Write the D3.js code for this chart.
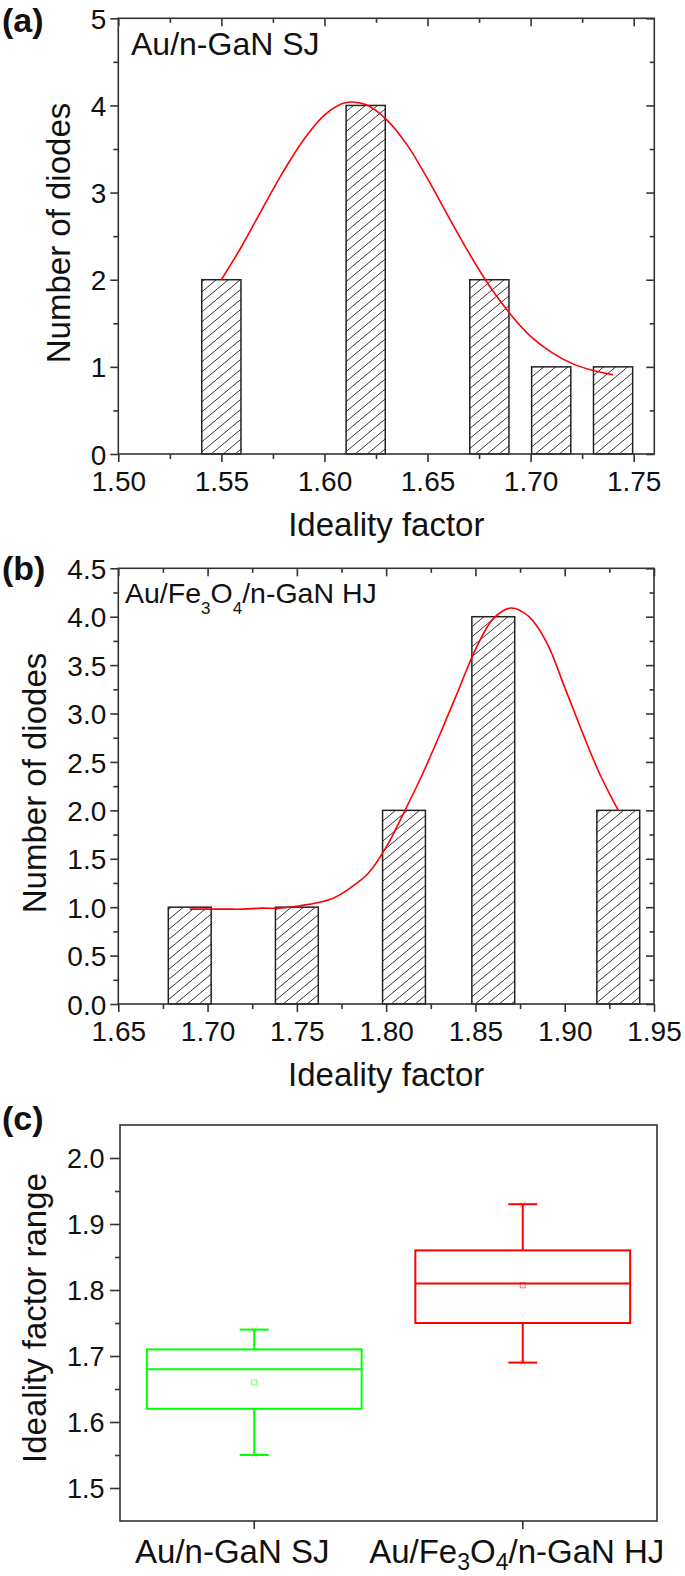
<!DOCTYPE html>
<html><head><meta charset="utf-8">
<script src="https://cdn.jsdelivr.net/npm/d3@7"></script>
<style>
body{margin:0;background:#fff}
text{font-family:"Liberation Sans",Arial,Helvetica,sans-serif;fill:#111}
</style>
</head><body>
<script>
// ---------------- DATA ----------------
// Panel (a) : Au/n-GaN SJ
const aBinCenters = [1.55, 1.62, 1.68, 1.71, 1.74];
const aCounts     = [2, 4, 2, 1, 1];
const aFitX = [1.55,1.56,1.57,1.58,1.59,1.60,1.61,1.62,1.63,1.64,1.65,1.66,1.67,1.68,1.69,1.70,1.71,1.72,1.73,1.74];
const aFitY = [2.00,2.39,2.82,3.24,3.61,3.89,4.03,4.01,3.84,3.55,3.16,2.73,2.31,1.93,1.61,1.35,1.17,1.04,0.96,0.91];
const aXTicks = [1.50,1.55,1.60,1.65,1.70,1.75];
const aXMinor = [1.525,1.575,1.625,1.675,1.725];
const aYTicks = [0,1,2,3,4,5];
const aYMinor = [0.5,1.5,2.5,3.5,4.5];

// Panel (b) : Au/Fe3O4/n-GaN HJ
const bBinCenters = [1.69, 1.75, 1.81, 1.86, 1.93];
const bCounts     = [1, 1, 2, 4, 2];
const bFitX = [1.69,1.70,1.71,1.72,1.73,1.74,1.75,1.76,1.77,1.78,1.79,1.80,1.81,1.82,1.83,1.84,1.85,1.86,1.87,1.88,1.89,1.90,1.91,1.92,1.93];
const bFitY = [0.98,0.98,0.98,0.98,0.99,0.99,1.01,1.04,1.09,1.20,1.35,1.62,1.98,2.36,2.78,3.22,3.66,3.98,4.09,4.00,3.73,3.27,2.80,2.36,2.00];
const bXTicks = [1.65,1.70,1.75,1.80,1.85,1.90,1.95];
const bXMinor = [1.675,1.725,1.775,1.825,1.875,1.925];
const bYTicks = [0,0.5,1.0,1.5,2.0,2.5,3.0,3.5,4.0,4.5];
const bYMinor = [0.25,0.75,1.25,1.75,2.25,2.75,3.25,3.75,4.25];

// Panel (c) : box plot
const cCategories = ["Au/n-GaN SJ", "Au/Fe3O4/n-GaN HJ"];
const cMin    = [1.55, 1.69];
const cQ1     = [1.62, 1.75];
const cMedian = [1.68, 1.81];
const cQ3     = [1.71, 1.86];
const cMax    = [1.74, 1.93];
const cMean   = [1.66, 1.807];
const cYTicks = [1.5,1.6,1.7,1.8,1.9,2.0];
const cYMinor = [1.55,1.65,1.75,1.85,1.95];

// ---------------- STYLE / LAYOUT ----------------
const FONT = '"Liberation Sans",Arial,Helvetica,sans-serif';
const AX = "#333";
const TICKFS = 28;
const cColors = ["#00ff00", "#ff0000"];
const cLabelShift = [-22, -6];

const svg = d3.select("body").append("svg").attr("width",685).attr("height",1576);
const defs = svg.append("defs");
const pat = defs.append("pattern").attr("id","hatch").attr("patternUnits","userSpaceOnUse")
  .attr("width",12).attr("height",10);
pat.append("path").attr("d","M-3,2.5 L3,-2.5 M0,10 L12,0 M9,12.5 L15,7.5")
  .attr("stroke","#333").attr("stroke-width",1).attr("fill","none");

function axisG(axisFn, scale, ticks, size, fmt, transform, fs) {
  const a = axisFn(scale).tickValues(ticks).tickSize(size).tickSizeOuter(0)
    .tickFormat(fmt ? fmt : () => "");
  const gg = svg.append("g").attr("transform", transform).call(a);
  gg.select(".domain").remove();
  gg.selectAll(".tick line").attr("stroke", AX).attr("stroke-width", 1.6);
  gg.attr("font-family", FONT).attr("font-size", fs || TICKFS);
  gg.selectAll(".tick text").attr("fill", "#111");
  return gg;
}

function richText(sel, str, subSize, subDy) {
  const parts = str.split(/(\d)/).filter(s => s.length);
  let shifted = false;
  parts.forEach(p => {
    if (/^\d$/.test(p)) {
      sel.append("tspan").attr("font-size", subSize).attr("dy", shifted ? 0 : subDy).text(p);
      shifted = true;
    } else {
      sel.append("tspan").attr("dy", shifted ? -subDy : 0).text(p);
      shifted = false;
    }
  });
}

function histPanel(p) {
  const x = d3.scaleLinear().domain(p.xDomain).range([p.left, p.right]);
  const y = d3.scaleLinear().domain(p.yDomain).range([p.bottom, p.top]);
  const g = svg.append("g");
  const bars = p.centers.map((c, i) => ({c, n: p.counts[i]}));
  g.selectAll("rect.bar").data(bars).join("rect").attr("class","bar")
    .attr("x", d => x(d.c - p.barWidth/2))
    .attr("width", d => x(d.c + p.barWidth/2) - x(d.c - p.barWidth/2))
    .attr("y", d => y(d.n)).attr("height", d => y(0) - y(d.n))
    .attr("fill", "url(#hatch)").attr("stroke", "#222").attr("stroke-width", 1.5);
  const line = d3.line().x(d => x(d[0])).y(d => y(d[1])).curve(d3.curveCatmullRom.alpha(0.5));
  g.append("path").datum(p.fitX.map((v, i) => [v, p.fitY[i]]))
    .attr("d", line).attr("fill", "none").attr("stroke", "#ff0000").attr("stroke-width", 1.6);
  g.append("rect").attr("x", p.left).attr("y", p.top)
    .attr("width", p.right - p.left).attr("height", p.bottom - p.top)
    .attr("fill", "none").attr("stroke", AX).attr("stroke-width", 1.6);

  // bottom
  axisG(d3.axisBottom, x, p.xTicks, 8, d3.format(".2f"), `translate(0,${p.bottom})`)
    .selectAll(".tick text").attr("y", 37).attr("dy", 0);
  axisG(d3.axisBottom, x, p.xMinor, 5, null, `translate(0,${p.bottom})`);
  // top (inward)
  axisG(d3.axisBottom, x, p.xTicks, 8, null, `translate(0,${p.top})`);
  axisG(d3.axisBottom, x, p.xMinor, 4.5, null, `translate(0,${p.top})`);
  // left
  axisG(d3.axisLeft, y, p.yTicks, 8, d3.format(p.yFmt), `translate(${p.left},0)`)
    .selectAll(".tick text").attr("x", -12).attr("dy", "0.36em");
  axisG(d3.axisLeft, y, p.yMinor, 5, null, `translate(${p.left},0)`);
  // right (inward)
  axisG(d3.axisLeft, y, p.yTicks, 8, null, `translate(${p.right},0)`);
  axisG(d3.axisLeft, y, p.yMinor, 4.5, null, `translate(${p.right},0)`);

  // titles
  svg.append("text").attr("x", (p.left + p.right)/2).attr("y", p.bottom + 82)
    .attr("text-anchor", "middle").attr("font-size", 33).text("Ideality factor");
  svg.append("text").attr("transform", `translate(${p.yTitleX},${p.yTitleY}) rotate(-90)`)
    .attr("text-anchor", "middle").attr("font-size", 33).text("Number of diodes");
  svg.append("text").attr("x", 2).attr("y", p.tagY).attr("font-size", 34)
    .attr("font-weight", "bold").text(p.tag);
  const t = svg.append("text").attr("x", p.nameX).attr("y", p.nameY).attr("font-size", p.nameSize);
  richText(t, p.name, p.nameSub, p.nameSubDy);
}

histPanel({
  left: 118.3, right: 654.3, top: 18.3, bottom: 454,
  xDomain: [1.50, 1.76], yDomain: [0, 5], barWidth: 0.019,
  centers: aBinCenters, counts: aCounts, fitX: aFitX, fitY: aFitY,
  xTicks: aXTicks, xMinor: aXMinor, yTicks: aYTicks, yMinor: aYMinor, yFmt: "d",
  yTitleX: 70, yTitleY: 233, tag: "(a)", tagY: 32,
  name: "Au/n-GaN SJ", nameX: 131, nameY: 55, nameSize: 32, nameSub: 20, nameSubDy: 9
});

histPanel({
  left: 118.3, right: 654, top: 568.3, bottom: 1004,
  xDomain: [1.65, 1.95], yDomain: [0, 4.5], barWidth: 0.024,
  centers: bBinCenters, counts: bCounts, fitX: bFitX, fitY: bFitY,
  xTicks: bXTicks, xMinor: bXMinor, yTicks: bYTicks, yMinor: bYMinor, yFmt: ".1f",
  yTitleX: 46, yTitleY: 783, tag: "(b)", tagY: 580,
  name: "Au/Fe3O4/n-GaN HJ", nameX: 125, nameY: 603, nameSize: 28.5, nameSub: 17, nameSubDy: 11
});

// ---------------- Panel (c) ----------------
(function() {
  const L = 120, R = 657, T = 1125, B = 1521;
  const x = d3.scaleBand().domain(cCategories).range([L, R]).paddingInner(0).paddingOuter(0);
  const y = d3.scaleLinear().domain([1.45, 2.05]).range([B, T]);
  const bw = x.bandwidth();
  const boxW = bw * 0.8, capW = bw * 0.108;

  svg.append("rect").attr("x", L).attr("y", T).attr("width", R - L).attr("height", B - T)
    .attr("fill", "none").attr("stroke", AX).attr("stroke-width", 1.6);

  const stats = cCategories.map((c, i) => ({c, i, mn: cMin[i], q1: cQ1[i], md: cMedian[i], q3: cQ3[i], mx: cMax[i], mean: cMean[i]}));
  const g = svg.append("g");
  stats.forEach(d => {
    const cx = x(d.c) + bw/2, col = cColors[d.i];
    const gg = g.append("g").attr("stroke", col).attr("fill", "none");
    gg.append("line").attr("x1", cx).attr("x2", cx).attr("y1", y(d.q3)).attr("y2", y(d.mx)).attr("stroke-width", 2);
    gg.append("line").attr("x1", cx).attr("x2", cx).attr("y1", y(d.q1)).attr("y2", y(d.mn)).attr("stroke-width", 2);
    gg.append("line").attr("x1", cx - capW/2).attr("x2", cx + capW/2).attr("y1", y(d.mx)).attr("y2", y(d.mx)).attr("stroke-width", 2);
    gg.append("line").attr("x1", cx - capW/2).attr("x2", cx + capW/2).attr("y1", y(d.mn)).attr("y2", y(d.mn)).attr("stroke-width", 2);
    gg.append("rect").attr("x", cx - boxW/2).attr("width", boxW)
      .attr("y", y(d.q3)).attr("height", y(d.q1) - y(d.q3)).attr("stroke-width", 2);
    gg.append("line").attr("x1", cx - boxW/2).attr("x2", cx + boxW/2).attr("y1", y(d.md)).attr("y2", y(d.md)).attr("stroke-width", 2);
    gg.append("rect").attr("x", cx - 2.5).attr("y", y(d.mean) - 2.5).attr("width", 5).attr("height", 5)
      .attr("stroke-width", 0.8).attr("opacity", 0.7);
    [d.mx, d.mn].forEach(v => {
      gg.append("path").attr("d", `M${cx-3},${y(v)-3}L${cx+3},${y(v)+3}M${cx-3},${y(v)+3}L${cx+3},${y(v)-3}`)
        .attr("stroke-width", 0.7).attr("opacity", 0.5);
    });
  });

  axisG(d3.axisLeft, y, cYTicks, 10, d3.format(".1f"), `translate(${L},0)`, 27)
    .selectAll(".tick text").attr("x", -15.5).attr("dy", "0.36em");
  axisG(d3.axisLeft, y, cYMinor, 5, null, `translate(${L},0)`);
  const xb = d3.axisBottom(x).tickSize(8).tickSizeOuter(0).tickFormat(() => "");
  const gx = svg.append("g").attr("transform", `translate(0,${B})`).call(xb);
  gx.select(".domain").remove();
  gx.selectAll(".tick line").attr("stroke", AX).attr("stroke-width", 1.6);

  cCategories.forEach((c, i) => {
    const t = svg.append("text").attr("x", x(c) + bw/2 + cLabelShift[i]).attr("y", B + 42)
      .attr("text-anchor", "middle").attr("font-size", 33);
    richText(t, c, 23, 7);
  });

  svg.append("text").attr("transform", `translate(46,1318) rotate(-90)`)
    .attr("text-anchor", "middle").attr("font-size", 33).text("Ideality factor range");
  svg.append("text").attr("x", 2).attr("y", 1130).attr("font-size", 34)
    .attr("font-weight", "bold").text("(c)");
})();
</script>
</body></html>
